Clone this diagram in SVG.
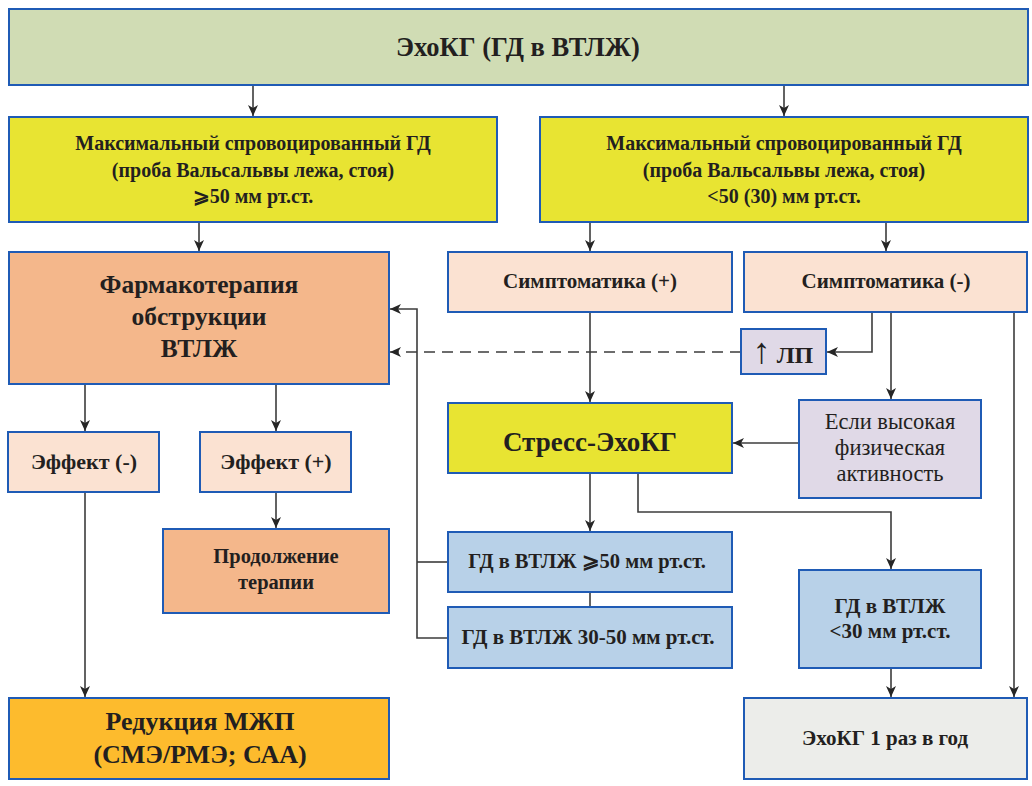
<svg xmlns="http://www.w3.org/2000/svg" width="1032" height="786" viewBox="0 0 1032 786">
  <defs>
    <marker id="arr" markerUnits="userSpaceOnUse" markerWidth="12" markerHeight="12" viewBox="0 0 12 12" refX="11" refY="6" orient="auto">
      <path d="M0,1 L11,6 L0,11 L3,6 Z" fill="#262626"/>
    </marker>
    <style>
      .box { stroke: #1f5bb5; stroke-width: 2; }
      .t { font-family: "Liberation Serif", "Times New Roman", serif; fill: #231f20; text-anchor: middle; }
      .b { font-weight: bold; }
      .c { fill: none; stroke: #3c3c3c; stroke-width: 1.6; }
      .a { marker-end: url(#arr); }
      .dash { stroke-dasharray: 11 7; }
    </style>
  </defs>
  <rect width="1032" height="786" fill="#ffffff"/>

  <g id="connectors">
    <path class="c a" d="M253,85 V116"/>
    <path class="c a" d="M784,85 V116"/>
    <path class="c a" d="M199,222 V251"/>
    <path class="c a" d="M590,222 V251"/>
    <path class="c a" d="M886,222 V251"/>
    <path class="c a" d="M85,384 V431"/>
    <path class="c a" d="M276,384 V431"/>
    <path class="c a" d="M85,492 V697"/>
    <path class="c a" d="M276,492 V528"/>
    <path class="c a" d="M590,312 V402"/>
    <path class="c a" d="M872,312 V352 H827"/>
    <path class="c a" d="M891,312 V399"/>
    <path class="c a dash" d="M741,352 H390"/>
    <path class="c a" d="M799,443 H733"/>
    <path class="c a" d="M1014,312 V697"/>
    <path class="c a" d="M590,473 V531"/>
    <path class="c" d="M590,592 V607"/>
    <path class="c a" d="M638,473 V512 H891 V569"/>
    <path class="c a" d="M891,668 V697"/>
    <path class="c a" d="M448,638 H417 V309 H390"/>
    <path class="c" d="M448,562 H417"/>
  </g>

  <g id="echo-top">
    <rect class="box" x="9" y="9" width="1019" height="76" fill="#d0dcb4"/>
    <text class="t b" x="518" y="56" font-size="26.5">ЭхоКГ (ГД в ВТЛЖ)</text>
  </g>

  <g id="gd-high">
    <rect class="box" x="9" y="117" width="488" height="105" fill="#e8e432"/>
    <text class="t b" x="253" y="150" font-size="20">Максимальный спровоцированный ГД</text>
    <text class="t b" x="253" y="177" font-size="20">(проба Вальсальвы лежа, стоя)</text>
    <text class="t b" x="253" y="203" font-size="20">⩾50 мм рт.ст.</text>
  </g>

  <g id="gd-low">
    <rect class="box" x="540" y="117" width="488" height="105" fill="#e8e432"/>
    <text class="t b" x="784" y="150" font-size="20">Максимальный спровоцированный ГД</text>
    <text class="t b" x="784" y="177" font-size="20">(проба Вальсальвы лежа, стоя)</text>
    <text class="t b" x="784" y="203" font-size="20">&lt;50 (30) мм рт.ст.</text>
  </g>

  <g id="pharmacotherapy">
    <rect class="box" x="9" y="252" width="380" height="132" fill="#f4b78b"/>
    <text class="t b" x="199" y="293" font-size="25.5">Фармакотерапия</text>
    <text class="t b" x="199" y="325" font-size="25.5">обструкции</text>
    <text class="t b" x="199" y="357" font-size="25.5">ВТЛЖ</text>
  </g>

  <g id="symptoms-plus">
    <rect class="box" x="448" y="252" width="284" height="60" fill="#fbe2d2"/>
    <text class="t b" x="590" y="288" font-size="21">Симптоматика (+)</text>
  </g>

  <g id="symptoms-minus">
    <rect class="box" x="744" y="252" width="283" height="60" fill="#fbe2d2"/>
    <text class="t b" x="886" y="288" font-size="21">Симптоматика (-)</text>
  </g>

  <g id="la">
    <rect class="box" x="741" y="329" width="85" height="45" fill="#e0d9e7"/>
    <text class="t b" x="783" y="363" font-size="24"><tspan font-weight="normal" font-size="36">↑</tspan> ЛП</text>
  </g>

  <g id="effect-minus">
    <rect class="box" x="8" y="432" width="151" height="60" fill="#fbe2d2"/>
    <text class="t b" x="84" y="469" font-size="22">Эффект (-)</text>
  </g>

  <g id="effect-plus">
    <rect class="box" x="200" y="432" width="151" height="60" fill="#fbe2d2"/>
    <text class="t b" x="276" y="469" font-size="22">Эффект (+)</text>
  </g>

  <g id="stress-echo">
    <rect class="box" x="448" y="403" width="284" height="70" fill="#e8e432"/>
    <text class="t b" x="590" y="451" font-size="27">Стресс-ЭхоКГ</text>
  </g>

  <g id="high-activity">
    <rect class="box" x="799" y="400" width="182" height="98" fill="#e0d9e7"/>
    <text class="t" x="890" y="429" font-size="22.5">Если высокая</text>
    <text class="t" x="890" y="455" font-size="22.5">физическая</text>
    <text class="t" x="890" y="481" font-size="22.5">активность</text>
  </g>

  <g id="continue-therapy">
    <rect class="box" x="163" y="529" width="226" height="84" fill="#f4b78b"/>
    <text class="t b" x="276" y="563" font-size="20.5">Продолжение</text>
    <text class="t b" x="276" y="589" font-size="20.5">терапии</text>
  </g>

  <g id="gd-50">
    <rect class="box" x="448" y="532" width="284" height="60" fill="#b8d1e8"/>
    <text class="t b" x="587" y="568" font-size="20.5">ГД в ВТЛЖ ⩾50 мм рт.ст.</text>
  </g>

  <g id="gd-30-50">
    <rect class="box" x="448" y="607" width="284" height="61" fill="#b8d1e8"/>
    <text class="t b" x="588" y="644" font-size="21">ГД в ВТЛЖ 30-50 мм рт.ст.</text>
  </g>

  <g id="gd-30">
    <rect class="box" x="799" y="570" width="182" height="98" fill="#b8d1e8"/>
    <text class="t b" x="890" y="613" font-size="21">ГД в ВТЛЖ</text>
    <text class="t b" x="890" y="638" font-size="21">&lt;30 мм рт.ст.</text>
  </g>

  <g id="septal-reduction">
    <rect class="box" x="9" y="698" width="380" height="81" fill="#fdbb2d"/>
    <text class="t b" x="200" y="730" font-size="26">Редукция МЖП</text>
    <text class="t b" x="200" y="763" font-size="26">(СМЭ/РМЭ; САА)</text>
  </g>

  <g id="echo-yearly">
    <rect class="box" x="744" y="698" width="283" height="81" fill="#ecedea"/>
    <text class="t b" x="885" y="745" font-size="21">ЭхоКГ 1 раз в год</text>
  </g>
</svg>
